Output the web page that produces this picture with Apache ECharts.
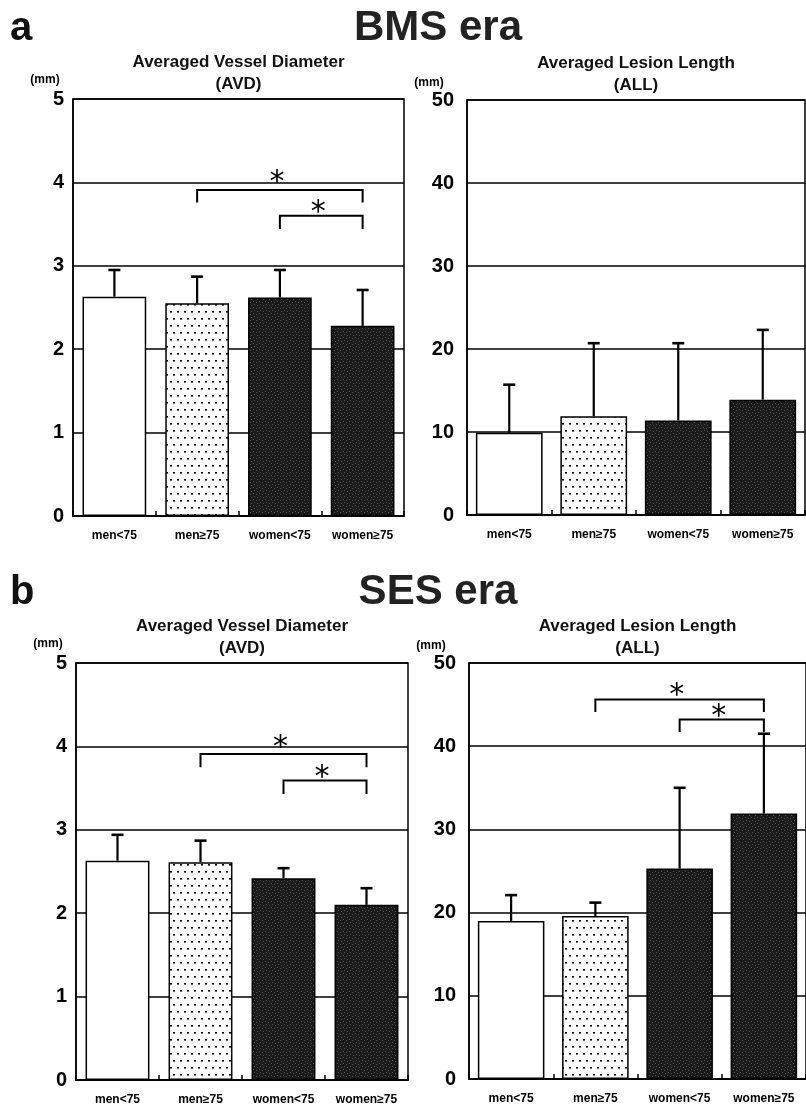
<!DOCTYPE html>
<html><head><meta charset="utf-8">
<script src="https://cdn.jsdelivr.net/npm/echarts@6/dist/echarts.min.js"></script>
<style>html,body{margin:0;padding:0;background:#fff}#c{width:806px;height:1109px}</style>
</head><body><div id="c"></div>
<script>
// ---------------- data ----------------
const categories = ['men<75', 'men≥75', 'women<75', 'women≥75'];
const bmsAvdMean = [2.63, 2.55, 2.62, 2.28];
const bmsAvdSD   = [0.32, 0.32, 0.33, 0.43];
const bmsAllMean = [9.9, 11.9, 11.4, 13.9];
const bmsAllSD   = [5.8, 8.8, 9.3, 8.4];
const sesAvdMean = [2.63, 2.61, 2.42, 2.10];
const sesAvdSD   = [0.31, 0.26, 0.12, 0.20];
const sesAllMean = [19.0, 19.6, 25.3, 31.9];
const sesAllSD   = [3.1, 1.6, 9.7, 9.6];
// significance brackets: [fromIndex, toIndex, barY, legEndY, starY]
const bmsAvdBrackets = [[1, 3, 3.91, 3.76, 4.07], [2, 3, 3.60, 3.44, 3.71]];
const bmsAllBrackets = [];
const sesAvdBrackets = [[1, 3, 3.91, 3.75, 4.06], [2, 3, 3.59, 3.43, 3.70]];
const sesAllBrackets = [[1, 3, 45.6, 44.1, 46.8], [2, 3, 43.2, 41.7, 44.3]];
const avdScale = { min: 0, max: 5, interval: 1 };
const allScale = { min: 0, max: 50, interval: 10 };
const panelTitles = [['Averaged Vessel Diameter', '(AVD)'], ['Averaged Lesion Length', '(ALL)']];
const eraTitles = ['BMS era', 'SES era'];
const panelLetters = ['a', 'b'];
const unitLabel = '(mm)';

// ---------------- patterns ----------------
function dotPattern() {
  const c = document.createElement('canvas'); c.width = 14; c.height = 14;
  const g = c.getContext('2d'); g.fillStyle = '#fff'; g.fillRect(0, 0, 14, 14);
  g.fillStyle = '#000';
  [[2, 3], [9, 3], [5, 10], [12, 10]].forEach(p => g.fillRect(p[0], p[1], 2, 1.6));
  return { image: c, repeat: 'repeat' };
}
function darkPattern() {
  const c = document.createElement('canvas'); c.width = 6; c.height = 6;
  const g = c.getContext('2d'); g.fillStyle = '#1a1a1a'; g.fillRect(0, 0, 6, 6);
  g.fillStyle = '#555';
  [[1, 1], [4, 2], [2, 4], [5, 5]].forEach(p => g.fillRect(p[0], p[1], 1, 1));
  return { image: c, repeat: 'repeat' };
}
const barFills = ['#ffffff', dotPattern(), darkPattern(), darkPattern()];

// ---------------- layout ----------------
const grids = [
  { left: 73, top: 99, width: 331, height: 417 },
  { left: 467, top: 100, width: 338, height: 415 },
  { left: 76, top: 663, width: 332, height: 417 },
  { left: 469, top: 663, width: 337, height: 416 }
];
const panels = [
  { mean: bmsAvdMean, sd: bmsAvdSD, br: bmsAvdBrackets, scale: avdScale, title: panelTitles[0], barW: '77%', labMargin: 9 },
  { mean: bmsAllMean, sd: bmsAllSD, br: bmsAllBrackets, scale: allScale, title: panelTitles[1], barW: '79%', labMargin: 13 },
  { mean: sesAvdMean, sd: sesAvdSD, br: sesAvdBrackets, scale: avdScale, title: panelTitles[0], barW: '77%', labMargin: 9 },
  { mean: sesAllMean, sd: sesAllSD, br: sesAllBrackets, scale: allScale, title: panelTitles[1], barW: '79%', labMargin: 13 }
];
const sans = "'Liberation Sans', Arial, sans-serif";

function errItem(params, api) {
  const i = api.value(0), m = api.value(1), s = api.value(2);
  const p0 = api.coord([i, m]), p1 = api.coord([i, m + s]);
  return { type: 'group', children: [
    { type: 'line', shape: { x1: p0[0], y1: p0[1], x2: p1[0], y2: p1[1] }, style: { stroke: '#000', lineWidth: 2.2 } },
    { type: 'line', shape: { x1: p1[0] - 6, y1: p1[1], x2: p1[0] + 6, y2: p1[1] }, style: { stroke: '#000', lineWidth: 2.6 } }
  ]};
}
function bracketItem(params, api) {
  const f = api.value(0), t = api.value(1), y = api.value(2), ly = api.value(3), sy = api.value(4);
  const a = api.coord([f, y]), b = api.coord([t, y]), l = api.coord([f, ly]), s = api.coord([f, sy]);
  return { type: 'group', children: [
    { type: 'polyline', shape: { points: [[a[0], l[1]], a, b, [b[0], l[1]]] }, style: { stroke: '#000', lineWidth: 2, fill: null } },
    { type: 'text', x: (a[0] + b[0]) / 2 - 3, y: s[1] + 7, style: { text: '*', font: "30px 'DejaVu Sans'", fill: '#000', align: 'center', verticalAlign: 'middle' } }
  ]};
}

const option = { animation: false, backgroundColor: '#fff', grid: [], xAxis: [], yAxis: [], series: [], graphic: [] };
panels.forEach((p, k) => {
  option.grid.push(Object.assign({ show: true, borderColor: '#000', borderWidth: 1.5, backgroundColor: 'transparent' }, grids[k]));
  option.xAxis.push({
    type: 'category', gridIndex: k, data: categories,
    axisLine: { lineStyle: { color: '#000', width: 1.5 } },
    axisTick: { show: true, inside: true, length: 5, lineStyle: { color: '#000', width: 1.5 } },
    axisLabel: { interval: 0, color: '#000', fontFamily: sans, fontWeight: 'bold', fontSize: 12, margin: 14 }
  });
  option.yAxis.push({
    type: 'value', gridIndex: k, min: p.scale.min, max: p.scale.max, interval: p.scale.interval,
    axisLine: { show: true, lineStyle: { color: '#000', width: 1.5 } },
    axisTick: { show: false },
    splitLine: { lineStyle: { color: '#000', width: 1.5 } },
    axisLabel: { color: '#000', fontFamily: sans, fontWeight: 'bold', fontSize: 20, margin: p.labMargin }
  });
  option.series.push({
    type: 'bar', xAxisIndex: k, yAxisIndex: k, barWidth: p.barW, z: 2,
    data: p.mean.map((v, i) => ({ value: v, itemStyle: { color: barFills[i], borderColor: '#000', borderWidth: 1.5 } }))
  });
  option.series.push({
    type: 'custom', xAxisIndex: k, yAxisIndex: k, z: 3, renderItem: errItem,
    data: p.mean.map((v, i) => [i, v, p.sd[i]])
  });
  if (p.br.length) option.series.push({
    type: 'custom', xAxisIndex: k, yAxisIndex: k, z: 4, renderItem: bracketItem, clip: false,
    data: p.br
  });
  const g = grids[k];
  const cx = g.left + g.width / 2;
  option.graphic.push(
    { type: 'text', x: cx, y: g.top - 37, style: { text: p.title[0], font: 'bold 17px ' + sans, fill: '#111', align: 'center', verticalAlign: 'middle' } },
    { type: 'text', x: cx, y: g.top - 15, style: { text: p.title[1], font: 'bold 17px ' + sans, fill: '#111', align: 'center', verticalAlign: 'middle' } }
  );
  const isLeft = (k % 2 === 0);
  option.graphic.push({ type: 'text', x: isLeft ? g.left - 28 : g.left - 38, y: isLeft ? g.top - 19 : g.top - 17,
    style: { text: unitLabel, font: 'bold 12px ' + sans, fill: '#000', align: 'center', verticalAlign: 'middle' } });
});
[0, 1].forEach(r => {
  const top = grids[r * 2].top;
  option.graphic.push(
    { type: 'text', x: 10, y: top - 70, style: { text: panelLetters[r], font: 'bold 40px ' + sans, fill: '#111', align: 'left', verticalAlign: 'middle' } },
    { type: 'text', x: 438, y: top - 71, style: { text: eraTitles[r], font: 'bold 42px ' + sans, fill: '#222', align: 'center', verticalAlign: 'middle' } }
  );
});
echarts.init(document.getElementById('c'), null, { renderer: 'canvas' }).setOption(option);
</script></body></html>
